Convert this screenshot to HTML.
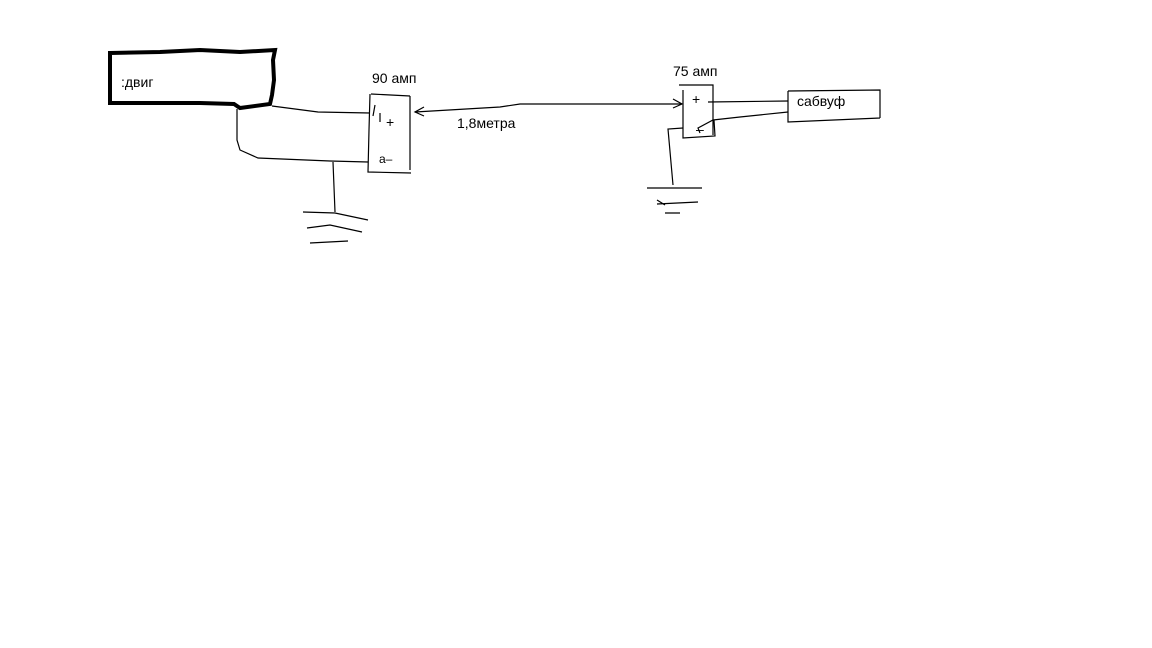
<!DOCTYPE html>
<html><head><meta charset="utf-8"><style>
html,body{margin:0;padding:0;background:#fff;width:1152px;height:648px;overflow:hidden}
text{font-family:"Liberation Sans","DejaVu Sans",sans-serif;font-size:14px;fill:#000}
</style></head><body>
<svg width="1152" height="648" viewBox="0 0 1152 648" xmlns="http://www.w3.org/2000/svg">
<g fill="none" stroke="#000" stroke-width="1.2">
<!-- engine box -->
<path d="M110,53 L160,52 L200,50 L240,52 L275,50 L273,60 L274,80 L272,95 L270,104 L240,108 L234,104 L200,103 L110,103 Z" stroke-width="4"/>
<!-- wire to fuse1 + -->
<path d="M272,106 L318,112 L370,113"/>
<!-- fuse1 -->
<path d="M371,94 L410,96 M370,94 L369,130 L368,172 L411,173 M410,96 L410,170"/>
<path d="M375,105 L373,116"/>
<path d="M380,113 L380,122"/>
<!-- lower wire -->
<path d="M237,109 L237,140 L240,150 L258,158 L330,161 L368,162"/>
<!-- ground 1 -->
<path d="M333,162 L335,212 M303,212 L335,213 L368,220 M307,228 L330,225 L362,232 M310,243 L348,241"/>
<!-- arrow cable -->
<path d="M415,112 L500,107 L520,104 L640,104 L682,104"/>
<path d="M424,107 L415,112 L424,116 M673,99 L682,104 L673,108"/>
<!-- fuse2 -->
<path d="M679,85 L713,85 L713,135 M683,90 L683,138 L715,136 L714,120"/>
<!-- to sub + -->
<path d="M708,102 L788,101"/>
<!-- sub box -->
<path d="M788,91 L880,90 L880,118 M788,91 L788,122 L880,118"/>
<!-- sub - wire -->
<path d="M788,112 L740,117 L713,120 L698,128 L700,133"/>
<!-- ground 2 -->
<path d="M683,128 L668,129 L673,185 M647,188 L702,188 M657,204 L698,202 M657,200 L665,205 M665,213 L680,213"/>
</g>
<text x="121" y="87">:двиг</text>
<text x="372" y="83">90 амп</text>
<text x="386" y="127">+</text>
<text x="379" y="163" style="font-size:12px">a–</text>
<text x="457" y="128">1,8метра</text>
<text x="673" y="76">75 амп</text>
<text x="692" y="104">+</text>
<text x="696" y="134">–</text>
<text x="797" y="106">сабвуф</text>
</svg>
</body></html>
